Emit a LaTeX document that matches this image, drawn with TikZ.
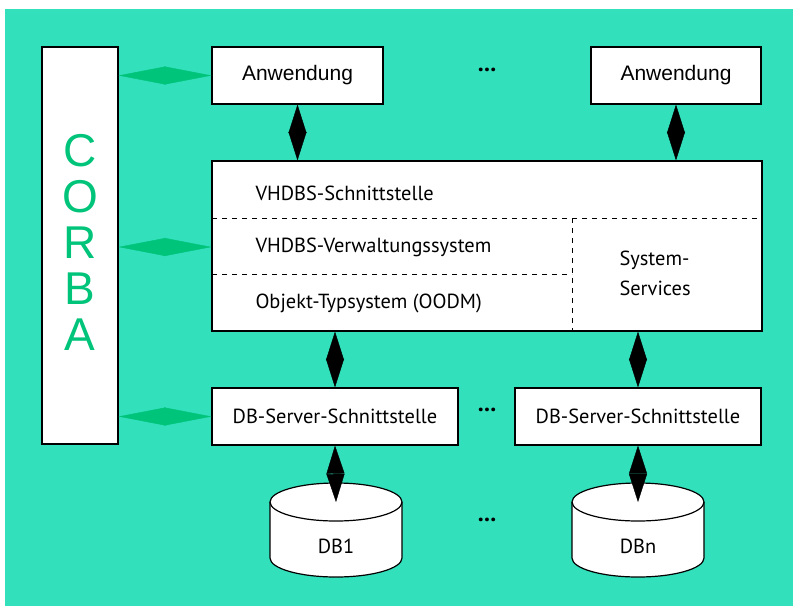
\documentclass[tikz,border=0pt]{standalone}
\usepackage{fontspec}
\setmainfont{PT Sans}
\newfontfamily\arialfont{Liberation Sans}
\usetikzlibrary{arrows.meta}
\definecolor{bgteal}{RGB}{50,224,188}
\definecolor{corbagreen}{RGB}{0,196,122}
\tikzstyle{box} = [draw, fill=white, line width=1.2pt, inner sep=0pt]
\tikzstyle{sep} = [draw, dashed, dash pattern=on 5pt off 5pt, line width=1pt]
\tikzstyle{link} = [draw=black, fill=black, line width=0.4pt,
  {Triangle[length=#1,width=18pt]}-{Triangle[length=#1,width=18pt]}]
\tikzstyle{corbalink} = [draw=corbagreen, fill=corbagreen, line width=0.4pt,
  {Triangle[length=47pt,width=18pt]}-{Triangle[length=47pt,width=18pt]}]

\begin{document}
\begin{tikzpicture}[x=1pt,y=-1pt]
	\tikzstyle{every node}=[font=\fontsize{20.4}{24}\selectfont]
	\useasboundingbox (0,0) rectangle (793,606);
	\fill[bgteal] (5,9) rectangle (793,606);

	% ------------------- CORBA ------------------- %
	\node[box, minimum width=76pt, minimum height=397pt] (corba) at (80,245.5) {};
	\node[text=corbagreen, align=center, font=\arialfont\fontsize{46}{46}\selectfont] (corbatext) at (80,242) {C\\O\\R\\B\\A};

	% ------------------- Anwendungen ------------------- %
	\node[box, minimum width=171pt, minimum height=57pt, font=\arialfont\fontsize{21}{24}\selectfont] (anw1) at (297.5,75.5) {Anwendung};
	\node[box, minimum width=170pt, minimum height=57pt, font=\arialfont\fontsize{21}{24}\selectfont] (anwn) at (676,75.5) {Anwendung};
	\node[font=\bfseries\fontsize{24}{24}\selectfont] (dotsa) at (487,70) {...};

	% ------------------- VHDBS ------------------- %
	\node[box, minimum width=550pt, minimum height=170pt] (vhdbs) at (487,246) {};
	\node[anchor=west] (vst) at (252,193) {VHDBS-Schnittstelle};
	\node[anchor=west] (vvs) at (252,247) {VHDBS-Verwaltungssystem};
	\node[anchor=west] (ots) at (252,303) {Objekt-Typsystem (OODM)};
	\node[anchor=west, align=left, font=\fontsize{20.4}{30}\selectfont] (sys) at (616,273) {System-\\Services};
	\draw[sep] (212,218) -- (762,218);
	\draw[sep] (212,274) -- (572,274);
	\draw[sep] (572,218) -- (572,331);

	% ------------------- DB-Server ------------------- %
	\node[box, minimum width=246pt, minimum height=57pt] (dbs1) at (335,416.5) {DB-Server-Schnittstelle};
	\node[box, minimum width=246pt, minimum height=57pt] (dbsn) at (638,416.5) {DB-Server-Schnittstelle};
	\node[font=\bfseries\fontsize{24}{24}\selectfont] (dotsb) at (487,410) {...};

	% ------------------- Datenbanken ------------------- %
	\foreach \name/\x/\lbl in {db1/336/DB1, dbn/638/DBn} {
		\draw[fill=white, line width=1.2pt] (\x-66,502) -- (\x-66,558)
			arc[start angle=180, end angle=360, x radius=66pt, y radius=19pt]
			-- (\x+66,502) arc[start angle=0, end angle=180, x radius=66pt, y radius=19pt] -- cycle;
		\draw[line width=1.2pt] (\x-66,502) arc[start angle=180, end angle=360, x radius=66pt, y radius=19pt];
		\coordinate (\name top) at (\x,502);
		\node (\name) at (\x,546) {\lbl};
	}
	\node[font=\bfseries\fontsize{24}{24}\selectfont] (dotsc) at (487,520) {...};

	% ------------------- Verbindungen ------------------- %
	\draw[link=28.5pt] (anw1.south) -- (anw1.south |- vhdbs.north);
	\draw[link=28.5pt] (anwn.south) -- (anwn.south |- vhdbs.north);
	\draw[link=28.5pt] (dbs1.north |- vhdbs.south) -- (dbs1.north);
	\draw[link=28.5pt] (dbsn.north |- vhdbs.south) -- (dbsn.north);
	\draw[link=28pt] (dbs1.south) -- (db1top);
	\draw[link=28pt] (dbsn.south) -- (dbntop);

	\draw[corbalink] (corba.east |- anw1) -- (anw1.west);
	\draw[corbalink] (corba.east |- vvs) -- (vhdbs.west |- vvs);
	\draw[corbalink] (corba.east |- dbs1) -- (dbs1.west);
\end{tikzpicture}
\end{document}
